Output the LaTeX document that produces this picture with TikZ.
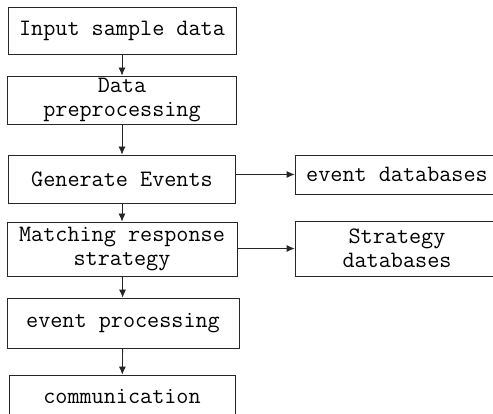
\documentclass[tikz,border=0pt]{standalone}
\usepackage{fontspec}
\usetikzlibrary{arrows.meta}
\begin{document}
\begin{tikzpicture}[x=1pt,y=-1pt,
  box/.style={draw=black!85,line width=0.8pt,align=center,inner sep=0pt,
    font=\ttfamily\fontsize{23.5}{24.5}\selectfont},
  flow/.style={draw=black!85,line width=0.8pt,-{Latex[length=8pt,width=7pt]}}]
\useasboundingbox (0,0) rectangle (493,414);
\clip (0,0) rectangle (493,414);
\node[box,minimum width=228pt,minimum height=47pt] (b1) at (122,30.5) {Input sample data};
\node[box,minimum width=229pt,minimum height=48pt] (b2) at (122,100) {Data\\preprocessing};
\node[box,minimum width=227pt,minimum height=48pt] (b3) at (122,179) {Generate Events};
\node[box,minimum width=230pt,minimum height=54pt] (b4) at (122,249) {Matching response\\strategy};
\node[box,minimum width=232pt,minimum height=50pt] (b5) at (123,323) {event processing};
\node[box,minimum width=226pt,minimum height=44pt] (b6) at (122,397) {communication};
\node[box,minimum width=204pt,minimum height=39pt] (e) at (397,174.5) {event databases};
\node[box,minimum width=204pt,minimum height=55pt] (s) at (397,248.5) {Strategy\\databases};
\draw[flow] (b1) -- (b2);
\draw[flow] (b2) -- (b3);
\draw[flow] (b3) -- (b4);
\draw[flow] (b4) -- (b5);
\draw[flow] (b5) -- (b6);
\draw[flow] (b3.east |- e.west) -- (e.west);
\draw[flow] (b4.east |- s.west) -- (s.west);
\end{tikzpicture}
\end{document}
